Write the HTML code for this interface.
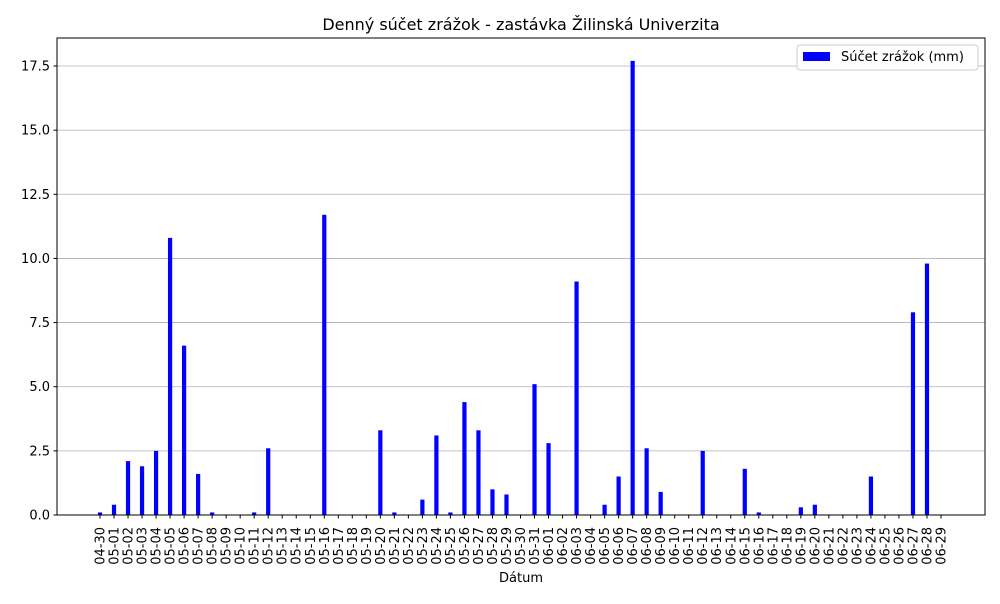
<!DOCTYPE html>
<html><head><meta charset="utf-8"><style>
body{margin:0;background:#fff;font-family:"DejaVu Sans","Liberation Sans",sans-serif;}
</style></head><body>
<svg width="1000" height="600" xmlns="http://www.w3.org/2000/svg" id="svg" font-family="DejaVu Sans, Liberation Sans, sans-serif"></svg>
<script>
const categories=["04-30","05-01","05-02","05-03","05-04","05-05","05-06","05-07","05-08","05-09","05-10","05-11","05-12","05-13","05-14","05-15","05-16","05-17","05-18","05-19","05-20","05-21","05-22","05-23","05-24","05-25","05-26","05-27","05-28","05-29","05-30","05-31","06-01","06-02","06-03","06-04","06-05","06-06","06-07","06-08","06-09","06-10","06-11","06-12","06-13","06-14","06-15","06-16","06-17","06-18","06-19","06-20","06-21","06-22","06-23","06-24","06-25","06-26","06-27","06-28","06-29"];
const rainfall=[0.1,0.4,2.1,1.9,2.5,10.8,6.6,1.6,0.1,0,0,0.1,2.6,0,0,0,11.7,0,0,0,3.3,0.1,0,0.6,3.1,0.1,4.4,3.3,1.0,0.8,0,5.1,2.8,0,9.1,0,0.4,1.5,17.7,2.6,0.9,0,0,2.5,0,0,1.8,0.1,0,0,0.3,0.4,0,0,0,1.5,0,0,7.9,9.8,0];
const yTicks=[0,2.5,5,7.5,10,12.5,15,17.5];
const yTickLabels=["0.0","2.5","5.0","7.5","10.0","12.5","15.0","17.5"];
const svg=document.getElementById('svg');const NS="http://www.w3.org/2000/svg";
const L=57,R=985,T=38,B=515;
const xs=i=>100+i*(941-100)/(categories.length-1);
const ys=v=>B-v*(B-66)/17.5;
function el(t,a,p){const e=document.createElementNS(NS,t);for(const k in a)e.setAttribute(k,a[k]);(p||svg).appendChild(e);return e;}
yTicks.forEach((v,i)=>{
 const g=el('line',{x1:L,x2:R,y1:ys(v),y2:ys(v),stroke:'#b0b0b0','stroke-width':0.8});
 
 
 const tk=el('line',{x1:L-3.5,x2:L,y1:ys(v),y2:ys(v),stroke:'#000'});
 
 
 const t=el('text',{x:L-7,y:ys(v)+4.5,'text-anchor':'end','font-size':13});
 t.textContent=yTickLabels[i];
 
 
});
rainfall.forEach((v,i)=>{
 const b=el('rect',{x:xs(i)-2.1,y:ys(v),width:4.2,height:B-ys(v),fill:'#0000ff'});
 
 
});
categories.forEach((c,i)=>{
 const tk=el('line',{x1:xs(i),x2:xs(i),y1:B,y2:B+3.5,stroke:'#000'});
 
 
 const t=el('text',{transform:`translate(${xs(i)+4.5},${B+12}) rotate(-90)`,'text-anchor':'end','font-size':13});
 t.textContent=c;
 
 
});
const fr=el('rect',{x:L,y:T,width:R-L,height:B-T,fill:'none',stroke:'#000','stroke-width':1});


const title=el('text',{x:521,y:30,'text-anchor':'middle','font-size':16});
title.textContent='Denný súčet zrážok - zastávka Žilinská Univerzita';


const xl=el('text',{x:521,y:582,'text-anchor':'middle','font-size':13});
xl.textContent='Dátum';


const lg=el('g',{});


el('rect',{x:797,y:45,width:181,height:25,fill:'#fff',stroke:'#ccc',rx:3},lg);
const sw=el('rect',{x:803,y:52,width:27,height:9,fill:'#0000ff'},lg);


const lt=el('text',{x:841,y:61,'font-size':13},lg);
lt.textContent='Súčet zrážok (mm)';


</script>
</body></html>
